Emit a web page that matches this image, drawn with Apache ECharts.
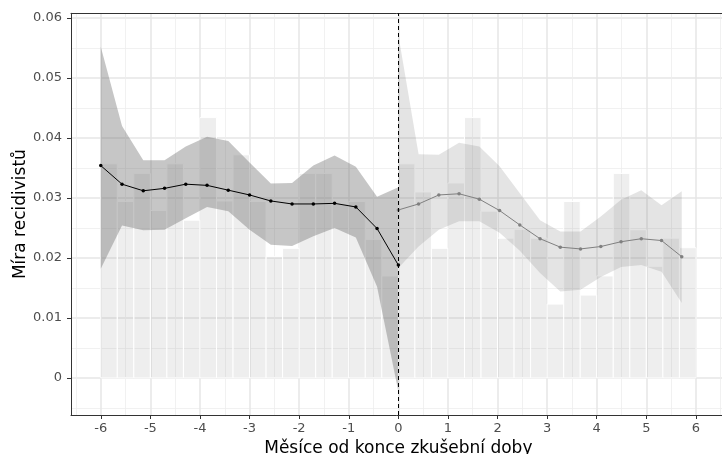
<!DOCTYPE html>
<html><head><meta charset="utf-8">
<script src="https://cdn.jsdelivr.net/npm/echarts@6/dist/echarts.min.js"></script>
<style>html,body{margin:0;padding:0;background:#fff}#c{width:722px;height:454px}</style>
</head><body><div id="c"></div>
<script>
// ---- data ----
const xTicks = [-6, -5, -4, -3, -2, -1, 0, 1, 2, 3, 4, 5, 6];
const yTicks = [0, 0.01, 0.02, 0.03, 0.04, 0.05, 0.06];
const xMinorTicks = [-6.5, -5.5, -4.5, -3.5, -2.5, -1.5, -0.5, 0.5, 1.5, 2.5, 3.5, 4.5, 5.5, 6.5];
const yMinorTicks = [-0.005, 0.005, 0.015, 0.025, 0.035, 0.045, 0.055];

const binWidth = 1 / 3;
const binStartBefore = -6;
const binStartAfter = 0;
const barsBefore = [0.0357, 0.0294, 0.0341, 0.0279, 0.0357, 0.0263, 0.0434, 0.0295, 0.0372,
                    0.0294, 0.0202, 0.0216, 0.0341, 0.0341, 0.0290, 0.0294, 0.0231, 0.0170];
const barsAfter  = [0.0357, 0.0310, 0.0216, 0.0325, 0.0434, 0.0278, 0.0233, 0.0248, 0.0233,
                    0.0123, 0.0294, 0.0138, 0.0170, 0.0341, 0.0247, 0.0186, 0.0233, 0.0217];

const smoothXBefore = [-6, -5.571, -5.143, -4.714, -4.286, -3.857, -3.429, -3, -2.571, -2.143, -1.714, -1.286, -0.857, -0.429, 0];
const smoothBefore  = [0.0354, 0.0323, 0.0312, 0.0316, 0.0323, 0.0321, 0.0313, 0.0305, 0.0295, 0.0290, 0.0290, 0.0291, 0.0285, 0.0249, 0.0188];
const ciHighBefore  = [0.0552, 0.0420, 0.0363, 0.0363, 0.0386, 0.0402, 0.0395, 0.0359, 0.0324, 0.0325, 0.0354, 0.0371, 0.0352, 0.0302, 0.0318];
const ciLowBefore   = [0.0182, 0.0254, 0.0246, 0.0247, 0.0266, 0.0285, 0.0278, 0.0247, 0.0222, 0.0220, 0.0236, 0.0250, 0.0234, 0.0152, -0.0023];

const smoothXAfter = [0, 0.408, 0.816, 1.224, 1.633, 2.041, 2.449, 2.857, 3.265, 3.673, 4.082, 4.490, 4.898, 5.306, 5.714];
const smoothAfter  = [0.0280, 0.0290, 0.0305, 0.0307, 0.0298, 0.0279, 0.0255, 0.0232, 0.0218, 0.0215, 0.0219, 0.0227, 0.0232, 0.0229, 0.0202];
const ciHighAfter  = [0.0572, 0.0373, 0.0372, 0.0392, 0.0386, 0.0353, 0.0308, 0.0263, 0.0244, 0.0244, 0.0269, 0.0297, 0.0313, 0.0288, 0.0311];
const ciLowAfter   = [0.0183, 0.0219, 0.0247, 0.0261, 0.0261, 0.0242, 0.0212, 0.0175, 0.0144, 0.0147, 0.0168, 0.0185, 0.0188, 0.0177, 0.0125];

const xTitle = 'Měsíce od konce zkušební doby';
const yTitle = 'Míra recidivistů';

// ---- helpers building library inputs ----
function barItems(start, vals) {
  return vals.map((v, i) => [start + i * binWidth, start + (i + 1) * binWidth, v]);
}
function pairs(xs, ys) { return xs.map((x, i) => [x, ys[i]]); }
function ribbonItems(xs, lo, hi) { return xs.map((x, i) => [x, lo[i], hi[i]]); }

const barData = barItems(binStartBefore, barsBefore).concat(barItems(binStartAfter, barsAfter));

function makeRibbon(xs, lo, hi, fill) {
  return {
    type: 'custom',
    xAxisIndex: 1, yAxisIndex: 1,
    silent: true,
    data: ribbonItems(xs, lo, hi),
    encode: { x: 0, y: [1, 2] },
    renderItem: function (params, api) {
      if (params.dataIndex !== 0) return null;
      const pts = [];
      for (let i = 0; i < xs.length; i++) pts.push(api.coord([xs[i], hi[i]]));
      for (let i = xs.length - 1; i >= 0; i--) pts.push(api.coord([xs[i], lo[i]]));
      return { type: 'polygon', shape: { points: pts }, style: { fill: fill, stroke: null } };
    }
  };
}

const font = 'DejaVu Sans';
const axisLineStyle = { color: '#333333', width: 1 };

const chart = echarts.init(document.getElementById('c'), null, { renderer: 'canvas' });
chart.setOption({
  animation: false,
  backgroundColor: '#ffffff',
  grid: { left: 71, right: -3.7, top: 13.3, bottom: 39, containLabel: false, outerBoundsMode: 'none' },
  xAxis: [
    { // minor grid + top border
      type: 'value', min: -6.6, max: 6.6, position: 'top', splitNumber: 26,
      axisLine: { show: true, onZero: false, lineStyle: axisLineStyle },
      axisTick: { show: false, customValues: xMinorTicks },
      axisLabel: { show: false, customValues: xMinorTicks },
      splitLine: { show: true, lineStyle: { color: '#EDEDED', width: 0.8 } }
    },
    { // major
      type: 'value', min: -6.6, max: 6.6, position: 'bottom', splitNumber: 13,
      axisLine: { show: true, onZero: false, lineStyle: axisLineStyle },
      axisTick: { show: true, length: 4, lineStyle: axisLineStyle, customValues: xTicks },
      axisLabel: { customValues: xTicks, color: '#4D4D4D', fontSize: 13, fontFamily: font, margin: 7,
                   formatter: v => String(v) },
      splitLine: { show: true, lineStyle: { color: '#E6E6E6', width: 1.5 } },
      name: xTitle, nameLocation: 'middle', nameGap: 25, nameMoveOverlap: false,
      nameTextStyle: { color: '#000', fontSize: 17, fontFamily: font }
    }
  ],
  yAxis: [
    { // minor grid + right border
      type: 'value', min: -0.0062, max: 0.0608, position: 'right', splitNumber: 13,
      axisLine: { show: true, onZero: false, lineStyle: axisLineStyle },
      axisTick: { show: false, customValues: yMinorTicks },
      axisLabel: { show: false, customValues: yMinorTicks },
      splitLine: { show: true, lineStyle: { color: '#EDEDED', width: 0.8 } }
    },
    { // major
      type: 'value', min: -0.0062, max: 0.0608, position: 'left',
      axisLine: { show: true, onZero: false, lineStyle: axisLineStyle },
      axisTick: { show: true, length: 4, lineStyle: axisLineStyle, customValues: yTicks },
      axisLabel: { customValues: yTicks, color: '#4D4D4D', fontSize: 13, fontFamily: font, margin: 9,
                   formatter: v => (Math.abs(v) < 1e-12 ? '0' : v.toFixed(2)) },
      splitLine: { show: true, lineStyle: { color: '#E6E6E6', width: 1.5 } },
      name: yTitle, nameLocation: 'middle', nameGap: 42, nameRotate: 90, nameMoveOverlap: false,
      nameTextStyle: { color: '#000', fontSize: 17, fontFamily: font }
    }
  ],
  series: [
    {
      type: 'custom', xAxisIndex: 1, yAxisIndex: 1, silent: true,
      data: barData,
      encode: { x: [0, 1], y: 2 },
      renderItem: function (params, api) {
        const p0 = api.coord([api.value(0), api.value(2)]);
        const p1 = api.coord([api.value(1), 0]);
        return {
          type: 'rect',
          shape: { x: p0[0], y: p0[1], width: p1[0] - p0[0], height: p1[1] - p0[1] },
          style: { fill: 'rgba(150,150,150,0.16)', stroke: '#ffffff', lineWidth: 1 }
        };
      }
    },
    makeRibbon(smoothXBefore, ciLowBefore, ciHighBefore, 'rgba(105,105,105,0.38)'),
    makeRibbon(smoothXAfter, ciLowAfter, ciHighAfter, 'rgba(120,120,120,0.2)'),
    {
      type: 'line', xAxisIndex: 1, yAxisIndex: 1, silent: true,
      data: pairs(smoothXBefore, smoothBefore),
      symbol: 'circle', symbolSize: 3.5,
      lineStyle: { color: '#000000', width: 1 },
      itemStyle: { color: '#000000' }
    },
    {
      type: 'line', xAxisIndex: 1, yAxisIndex: 1, silent: true,
      data: pairs(smoothXAfter, smoothAfter),
      symbol: 'circle', symbolSize: 3.5,
      lineStyle: { color: '#808080', width: 1 },
      itemStyle: { color: '#808080' },
      markLine: {
        silent: true, symbol: ['none', 'none'], label: { show: false },
        lineStyle: { color: '#000000', width: 1, type: [4, 3] },
        data: [{ xAxis: 0 }]
      }
    }
  ]
});
</script>
</body></html>
